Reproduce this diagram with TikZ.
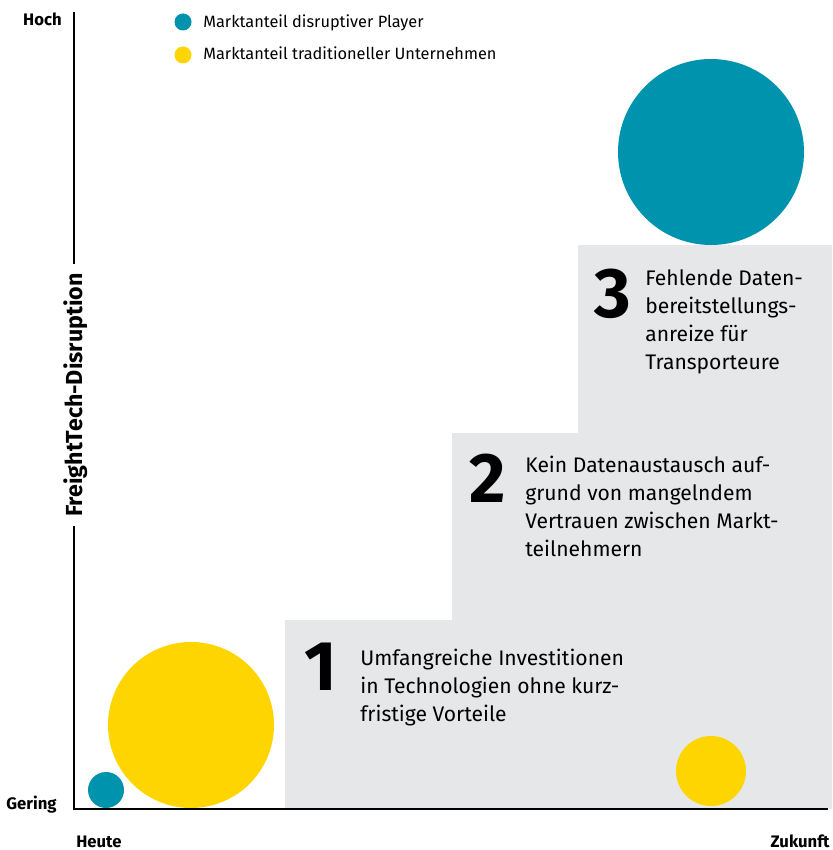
\documentclass[tikz,border=0pt]{standalone}
\usepackage{fontspec}
\setmainfont{Fira Sans}

\definecolor{petrol}{HTML}{0093AE}
\definecolor{gelb}{HTML}{FFD500}
\definecolor{stufe}{HTML}{E6E7E9}

\tikzset{
    achse/.style={line width=1.5pt},
    achsentext/.style={font=\bfseries\fontsize{9.5}{11}\selectfont, inner sep=0pt},
    legende/.style={font=\fontsize{9.3}{11}\selectfont, anchor=base west, inner sep=0pt},
    nummer/.style={font=\bfseries\fontsize{40}{40}\selectfont, anchor=base west, inner sep=0pt},
    stufentext/.style={font=\fontsize{12}{15.9}\selectfont, anchor=base west, align=left, inner sep=0pt},
}

\begin{document}
\begin{tikzpicture}[x=0.2mm, y=-0.2mm]
            \useasboundingbox (0, 0) rectangle (832, 850);

            % Treppe
            \fill [stufe] (285, 809) -- (285, 620) -- (452, 620) -- (452, 433) -- (578, 433)
                -- (578, 245) -- (832, 245) -- (832, 809) -- cycle;

            % Marktanteile
            \fill [petrol] (711, 152) circle [radius=93];
            \fill [gelb] (191, 725) circle [radius=83];
            \fill [petrol] (106, 790) circle [radius=18];
            \fill [gelb] (711, 771) circle [radius=35];

            % Legende
            \fill [petrol] (183, 22) circle [radius=8.5];
            \fill [gelb] (183, 55) circle [radius=8.5];
            \node (leg1) [legende] at (203, 28) {Marktanteil disruptiver Player};
            \node (leg2) [legende] at (203, 60) {Marktanteil traditioneller Unternehmen};

            % Achsen
            \coordinate (ytop) at (74, 12);
            \coordinate (origin) at (74, 809);
            \coordinate (xend) at (828, 809);
            \node (ylab) [achsentext, font=\bfseries\fontsize{13.2}{15}\selectfont, rotate=90, inner xsep=5pt] at (76, 395) {FreightTech-Disruption};
            \draw [achse] (ytop) -- (ytop |- ylab.east);
            \draw [achse] (origin |- ylab.west) -- (origin) -- (xend);

            \node (hoch) [achsentext, anchor=base east] at (62, 26) {Hoch};
            \node (gering) [achsentext, anchor=base east] at (57, 809) {Gering};
            \node (heute) [achsentext, anchor=base west] at (76, 847) {Heute};
            \node (zukunft) [achsentext, anchor=base east] at (830, 847) {Zukunft};

            % Stufen (Textknoten haengen an der letzten Grundlinie)
            \node (num1) [nummer] at (304, 690) {1};
            \node (txt1) [stufentext] at (360, 721) {Umfangreiche Investitionen\\in Technologien ohne kurz-\\fristige Vorteile};

            \node (num2) [nummer] at (469, 502) {2};
            \node (txt2) [stufentext] at (525, 556) {Kein Datenaustausch auf-\\grund von mangelndem\\Vertrauen zwischen Markt-\\teilnehmern};

            \node (num3) [nummer] at (594, 317) {3};
            \node (txt3) [stufentext] at (645, 369) {Fehlende Daten-\\bereitstellungs-\\anreize für\\Transporteure};
        \end{tikzpicture}
\end{document}
